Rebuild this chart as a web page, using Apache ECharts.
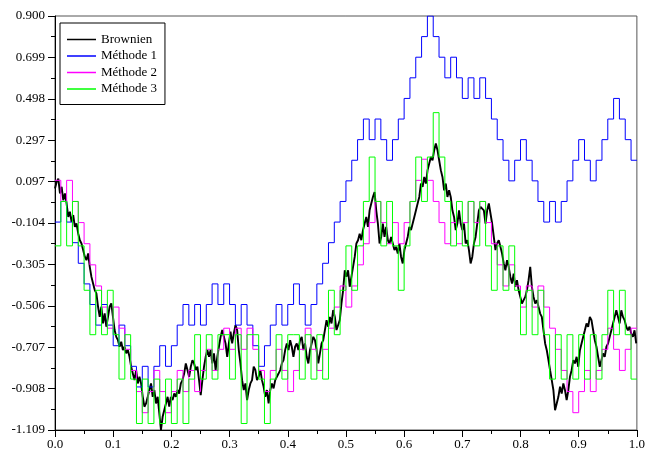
<!DOCTYPE html>
<html>
<head>
<meta charset="utf-8">
<script src="https://cdn.jsdelivr.net/npm/echarts@6/dist/echarts.min.js"></script>
<style>
html, body { margin: 0; padding: 0; background: #fff; }
#chart { width: 648px; height: 455px; }
</style>
</head>
<body>
<div id="chart"></div>
<script>
// Y tick labels as printed on the axis
const yTickLabels = ['-1.109', '-0.908', '-0.707', '-0.506', '-0.305', '-0.104', '0.097', '0.297', '0.498', '0.699', '0.900'];
const yMin = -1.109, yMax = 0.900, yStep = 0.2009;

// Time grid of the three schemes: 100 steps of 0.01
const stepDt = 0.01;

// Méthode 1: walk of +/- 0.1 per step (levels in units of 0.1)
const m1Unit = 0.1;
const m1Levels = [
  -1, 0, -1, -2, -3, -4, -5, -6, -5, -6,
  -7, -6, -7, -8, -9, -8, -9, -8, -7, -8,
  -7, -6, -5, -6, -5, -6, -5, -4, -5, -4,
  -5, -6, -5, -6, -7, -8, -7, -6, -5, -6,
  -5, -4, -5, -6, -5, -4, -3, -2, -1, 0,
  1, 2, 3, 4, 3, 4, 3, 2, 3, 4,
  5, 6, 7, 8, 9, 8, 7, 6, 7, 6,
  5, 6, 5, 6, 5, 4, 3, 2, 1, 2,
  3, 2, 1, 0, -1, 0, -1, 0, 1, 2,
  3, 2, 1, 2, 3, 4, 5, 4, 3, 2
];

// Méthode 2: levels in units of 0.1025
const m2Unit = 0.1025;
const m2Levels = [
  1, 0, 1, 0, -1, -2, -3, -4, -5, -6,
  -5, -6, -7, -8, -9, -10, -9, -8, -9, -10,
  -9, -8, -9, -8, -9, -8, -7, -8, -7, -6,
  -7, -6, -7, -6, -7, -8, -9, -8, -7, -8,
  -9, -8, -7, -6, -7, -8, -7, -6, -5, -4,
  -5, -4, -3, -2, -1, 0, -1, -2, -1, -2,
  -1, 0, 1, 2, 1, 0, -1, -2, -1, -2,
  -1, 0, -1, 0, -1, -2, -3, -4, -3, -4,
  -5, -4, -5, -4, -5, -6, -7, -8, -9, -10,
  -9, -8, -9, -8, -7, -6, -7, -8, -7, -6
];

// Méthode 3: levels in units of 0.2155
const m3Unit = 0.2155;
const m3Levels = [
  -1, 0, -1, 0, -1, -2, -3, -2, -3, -2,
  -3, -4, -3, -4, -5, -4, -5, -4, -5, -4,
  -5, -4, -5, -4, -3, -4, -3, -4, -3, -3,
  -4, -3, -5, -3, -3, -4, -5, -4, -3, -4,
  -3, -3, -4, -3, -4, -3, -4, -2, -3, -2,
  -1, -2, -1, 0, 1, 0, -1, 0, -1, -2,
  -1, 0, 1, 0, 1, 2, 1, 0, -1, 0,
  -1, 0, -1, 0, -1, -2, -1, -2, -1, -2,
  -3, -2, -3, -2, -3, -4, -3, -4, -3, -4,
  -3, -4, -3, -4, -3, -2, -3, -2, -3, -4
];

// Brownian path, sampled every bmDt
const bmDt = 0.0028457;
const bmValues = [
  0.063, 0.095, 0.111, 0.039, 0.071, 0.006, 0.039, -0.010, -0.075, -0.050,
  -0.099, -0.066, -0.123, -0.107, -0.155, -0.188, -0.204, -0.236, -0.268, -0.285,
  -0.252, -0.317, -0.366, -0.398, -0.430, -0.446, -0.511, -0.560, -0.511, -0.592,
  -0.543, -0.608, -0.560, -0.511, -0.495, -0.560, -0.624, -0.657, -0.673, -0.705,
  -0.681, -0.721, -0.705, -0.737, -0.721, -0.754, -0.802, -0.835, -0.867, -0.818,
  -0.883, -0.851, -0.883, -0.948, -0.996, -0.980, -0.948, -0.915, -0.883, -0.948,
  -0.915, -0.980, -0.948, -1.029, -1.109, -1.045, -1.012, -0.980, -0.948, -0.996,
  -0.948, -0.964, -0.932, -0.948, -0.915, -0.932, -0.883, -0.867, -0.835, -0.786,
  -0.818, -0.851, -0.802, -0.770, -0.786, -0.818, -0.802, -0.867, -0.940, -0.867,
  -0.802, -0.754, -0.721, -0.754, -0.721, -0.786, -0.737, -0.818, -0.754, -0.705,
  -0.657, -0.624, -0.657, -0.689, -0.754, -0.689, -0.632, -0.689, -0.640, -0.600,
  -0.624, -0.721, -0.786, -0.867, -0.915, -0.883, -0.964, -0.915, -0.883, -0.867,
  -0.802, -0.818, -0.867, -0.851, -0.818, -0.867, -0.899, -0.948, -0.915, -0.980,
  -0.915, -0.883, -0.907, -0.867, -0.851, -0.835, -0.818, -0.786, -0.770, -0.721,
  -0.689, -0.721, -0.673, -0.705, -0.754, -0.705, -0.689, -0.721, -0.673, -0.657,
  -0.721, -0.689, -0.754, -0.786, -0.721, -0.689, -0.657, -0.673, -0.721, -0.786,
  -0.737, -0.689, -0.673, -0.624, -0.576, -0.608, -0.560, -0.592, -0.527, -0.560,
  -0.624, -0.625, -0.576, -0.495, -0.431, -0.334, -0.366, -0.334, -0.414, -0.366,
  -0.317, -0.269, -0.204, -0.188, -0.156, -0.188, -0.139, -0.107, -0.075, -0.123,
  -0.043, -0.010, 0.022, 0.046, -0.043, -0.107, -0.204, -0.172, -0.107, -0.172,
  -0.123, -0.188, -0.204, -0.172, -0.204, -0.236, -0.220, -0.253, -0.204, -0.269,
  -0.301, -0.236, -0.204, -0.172, -0.123, -0.139, -0.107, -0.075, -0.043, -0.010,
  0.022, 0.087, 0.071, 0.119, 0.087, 0.152, 0.184, 0.216, 0.200, 0.249,
  0.281, 0.249, 0.200, 0.152, 0.119, 0.054, 0.087, 0.022, 0.054, 0.022,
  -0.043, -0.075, -0.139, -0.107, -0.043, -0.107, -0.139, -0.107, -0.204, -0.188,
  -0.236, -0.301, -0.269, -0.204, -0.172, -0.107, -0.043, -0.026, -0.026, -0.043,
  -0.107, -0.043, -0.010, -0.002, -0.107, -0.172, -0.236, -0.204, -0.188, -0.220,
  -0.253, -0.301, -0.334, -0.285, -0.317, -0.366, -0.398, -0.350, -0.414, -0.382,
  -0.431, -0.463, -0.495, -0.479, -0.463, -0.431, -0.382, -0.317, -0.414, -0.463,
  -0.495, -0.479, -0.511, -0.544, -0.560, -0.625, -0.689, -0.722, -0.770, -0.819,
  -0.867, -0.916, -1.013, -0.980, -0.948, -0.899, -0.932, -0.883, -0.916, -0.964,
  -0.916, -0.851, -0.819, -0.770, -0.786, -0.754, -0.802, -0.722, -0.689, -0.657,
  -0.625, -0.592, -0.608, -0.560, -0.576, -0.625, -0.673, -0.705, -0.754, -0.802,
  -0.770, -0.738, -0.754, -0.705, -0.689, -0.657, -0.625, -0.592, -0.560, -0.528,
  -0.560, -0.592, -0.528, -0.560, -0.576, -0.608, -0.625, -0.608, -0.641, -0.657,
  -0.625, -0.689
];

function stepData(levels, unit) {
  const pts = levels.map((l, k) => [+(k * stepDt).toFixed(4), +(l * unit).toFixed(4)]);
  pts.push([1, +(levels[levels.length - 1] * unit).toFixed(4)]);
  return pts;
}
const bmData = bmValues.map((v, k) => [+(k * bmDt).toFixed(5), v]);

const FONT = 'Liberation Serif';
const chart = echarts.init(document.getElementById('chart'), null, { renderer: 'canvas' });

const lineSeries = (name, color, data, step, width) => ({
  name, type: 'line', data, step: step || false,
  symbol: 'none', smooth: false, animation: false,
  lineStyle: { color, width: width || 1 }, itemStyle: { color },
  emphasis: { disabled: true }
});

chart.setOption({
  backgroundColor: '#fff',
  animation: false,
  grid: { left: 55, right: 7, top: 16, bottom: 25, show: true, borderColor: '#555', borderWidth: 1, backgroundColor: 'transparent' },
  legend: {
    orient: 'vertical', left: 60, top: 23,
    padding: [10, 8, 9, 7], itemGap: 3.5, itemWidth: 29, itemHeight: 1.5,
    icon: 'rect',
    backgroundColor: '#fff', borderColor: '#000', borderWidth: 1, borderRadius: 0,
    textStyle: { fontFamily: FONT, fontSize: 13, color: '#000', lineHeight: 13 },
    data: ['Brownien', 'Méthode 1', 'Méthode 2', 'Méthode 3']
  },
  xAxis: {
    type: 'value', min: 0, max: 1, interval: 0.1,
    axisLine: { show: true, onZero: false, lineStyle: { color: '#000', width: 1 } },
    axisTick: { show: true, inside: false, length: 7, lineStyle: { color: '#000' } },
    minorTick: { show: true, splitNumber: 2, length: 4, lineStyle: { color: '#000' } },
    splitLine: { show: false },
    axisLabel: { margin: 8, fontFamily: FONT, fontSize: 13, color: '#000', formatter: v => v.toFixed(1) }
  },
  yAxis: {
    type: 'value', min: yMin, max: yMax, interval: yStep,
    axisLine: { show: true, onZero: false, lineStyle: { color: '#000', width: 1 } },
    axisTick: { show: true, inside: false, length: 7, lineStyle: { color: '#000' } },
    minorTick: { show: true, splitNumber: 2, length: 4, lineStyle: { color: '#000' } },
    splitLine: { show: false },
    axisLabel: { margin: 10, fontFamily: FONT, fontSize: 13, color: '#000',
      formatter: v => yTickLabels[Math.round((v - yMin) / yStep)] }
  },
  series: [
    lineSeries('Brownien', '#000000', bmData, false, 1.9),
    lineSeries('Méthode 1', '#0000ff', stepData(m1Levels, m1Unit), 'end'),
    lineSeries('Méthode 2', '#ff00ff', stepData(m2Levels, m2Unit), 'end'),
    lineSeries('Méthode 3', '#00ff00', stepData(m3Levels, m3Unit), 'end')
  ]
});
</script>
</body>
</html>
